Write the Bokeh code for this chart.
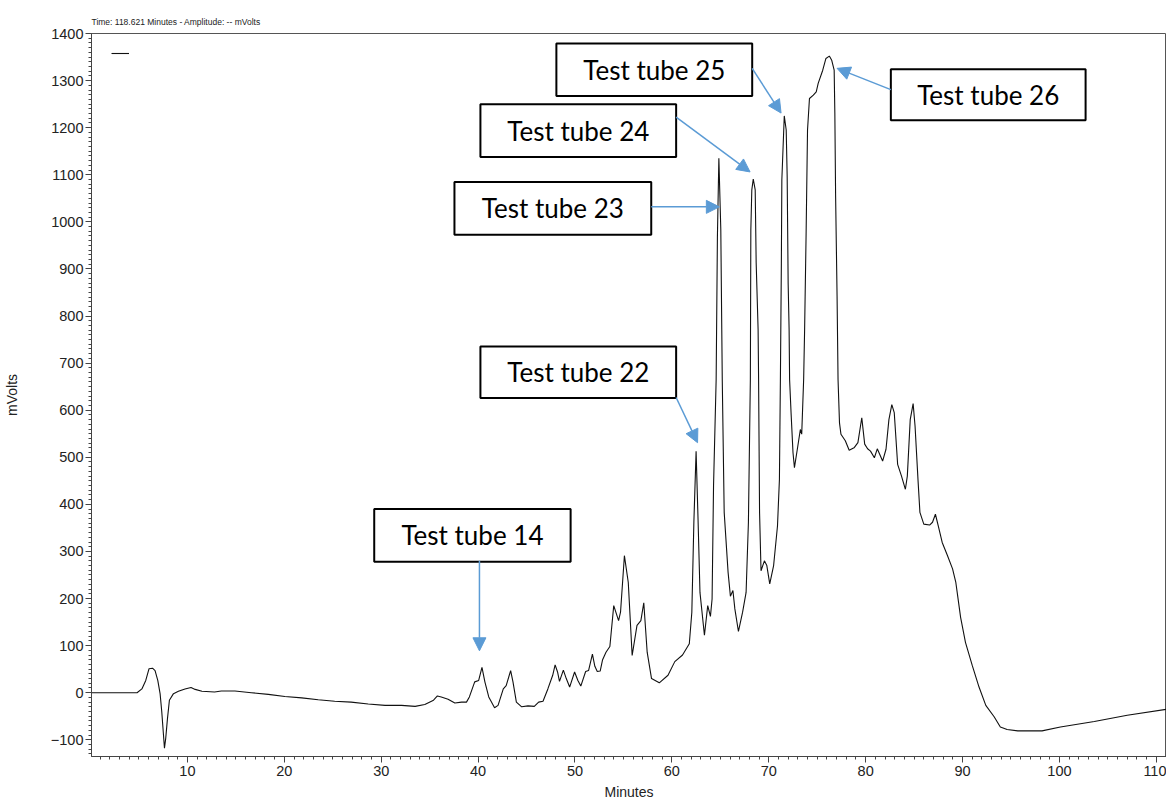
from bokeh.plotting import figure
from bokeh.models import (BoxAnnotation, Label, Arrow, NormalHead, SingleIntervalTicker,
                          Range1d, Legend, LegendItem)
from bokeh.embed import file_html
from bokeh.resources import INLINE

# Detector trace: retention time (min) and signal (mV)
minutes = [0.1, 4.8, 5.3, 5.7, 6.04, 6.4, 6.66, 6.94, 7.18, 7.35, 7.53, 7.63, 7.76, 7.94, 8.14,
           8.56, 9.07, 9.75, 10.37, 10.8, 11.5, 12.8, 13.5, 14.9, 16.6, 18.35, 20.06, 21.8,
           23.5, 25.2, 26.9, 28.66, 30.4, 32.1, 33.5, 34.5, 35.4, 35.8, 36.2, 36.9, 37.6,
           38.3, 38.8, 39.1, 39.65, 40.06, 40.4, 40.7, 41.1, 41.7, 42.06, 42.6, 42.9, 43.36,
           43.6, 43.95, 44.5, 45.15, 45.8, 46.25, 46.7, 47.2, 47.7, 47.95, 48.2, 48.4, 48.8,
           49.1, 49.45, 49.96, 50.3, 50.6, 51.1, 51.4, 51.8, 52.05, 52.3, 52.6, 52.85, 53.2,
           53.6, 54.0, 54.5, 54.7, 55.1, 55.5, 55.9, 56.4, 56.8, 57.1, 57.45, 57.9, 58.7,
           59.6, 60.3, 61.1, 61.8, 62.06, 62.27, 62.5, 62.7, 62.9, 63.36, 63.7, 63.98, 64.15,
           64.3, 64.57, 64.7, 64.85, 65.05, 65.15, 65.2, 65.4, 65.8, 66.04, 66.3, 66.5, 66.87,
           67.3, 67.66, 67.9, 68.1, 68.15, 68.25, 68.4, 68.6, 68.7, 68.9, 68.95, 69.05, 69.2,
           69.55, 69.8, 70.1, 70.5, 70.9, 71.1, 71.2, 71.3, 71.35, 71.6, 71.8, 71.9, 72.0,
           72.1, 72.15, 72.3, 72.5, 72.65, 73.0, 73.26, 73.4, 73.6, 73.7, 73.85, 74.0, 74.2,
           74.6, 74.9, 75.1, 75.57, 75.9, 76.25, 76.5, 76.75, 76.82, 76.9, 77.05, 77.15,
           77.3, 77.45, 77.9, 78.3, 78.8, 79.2, 79.6, 79.9, 80.2, 80.5, 80.9, 81.2, 81.75,
           82.1, 82.4, 82.7, 82.95, 83.3, 83.7, 84.1, 84.3, 84.6, 84.9, 85.1, 85.4, 85.6,
           86.0, 86.6, 86.9, 87.2, 87.5, 87.9, 88.45, 88.97, 89.3, 89.5, 89.8, 90.3, 91.0,
           91.7, 92.4, 93.26, 93.9, 94.6, 95.7, 98.2, 100.1, 103.6, 107.0, 111.1]
mvolts = [0, 0, 8, 26, 51, 52, 47, 26, -2, -40, -90, -118, -97, -55, -16,
          -2, 3, 8, 11, 7, 3, 1.5, 3.5, 3.5, 0, -3.5, -8, -11,
          -15, -18, -20, -24, -27, -27, -29, -25, -16, -7, -9, -14, -22,
          -20, -20, -9, 23, 26, 54, 23, -9, -32, -27, 8, 15, 47,
          23, -20, -30, -28, -29, -20, -18, 8, 37, 59, 44, 24, 48,
          30, 12, 44, 26, 14, 45, 47, 82, 56, 45, 46, 70, 86,
          98, 185, 153, 171, 291, 234, 79, 143, 153, 191, 86, 30, 21,
          37, 66, 80, 104, 171, 362, 513, 369, 213, 122, 185, 162, 199,
          439, 665, 969, 1135, 983, 771, 665, 383, 256, 205, 217, 178, 130,
          171, 213, 362, 665, 983, 1068, 1091, 1068, 913, 771, 665, 383, 259,
          280, 270, 231, 270, 354, 453, 665, 912, 1089, 1225, 1195, 1096, 870,
          771, 665, 595, 510, 478, 524, 559, 549, 665, 771, 969, 1195, 1262,
          1269, 1276, 1294, 1322, 1347, 1352, 1343, 1322, 1231, 1054, 842, 665,
          573, 549, 535, 515, 520, 531, 584, 528, 518, 513, 499, 518, 492,
          517, 580, 612, 595, 485, 460, 432, 460, 580, 614, 566, 453, 383,
          358, 356, 362, 379, 354, 319, 291, 263, 235, 205, 160, 107, 58,
          12, -27, -51, -73, -78, -81, -81, -73, -61, -48, -35]

# Fraction call-outs
tube_labels = ["Test tube 14", "Test tube 22", "Test tube 23",
               "Test tube 24", "Test tube 25", "Test tube 26"]
box_left = [29.28, 40.24, 37.56, 40.24, 48.08, 82.6]
box_right = [49.55, 60.44, 57.87, 60.44, 68.29, 102.7]
box_bottom = [278, 626, 972.5, 1137.7, 1267, 1216]
box_top = [390, 735, 1084.7, 1250, 1379, 1324]
arrow_x0 = [40.14, 60.44, 57.87, 60.44, 68.29, 82.6]
arrow_y0 = [280, 627, 1031.8, 1222.5, 1326, 1280.7]
arrow_x1 = [40.14, 62.65, 64.9, 68.07, 71.27, 77.05]
arrow_y1 = [89, 531, 1031.8, 1106, 1231, 1326]

AXIS_FONT = "Liberation Sans"
CALLOUT_FONT = "Lato"
ARROW_BLUE = "#5B9BD5"

p = figure(width=1166, height=802, output_backend="svg", toolbar_location=None,
           x_range=Range1d(0.1, 111.05), y_range=Range1d(-135.5, 1400),
           min_border_left=90, min_border_right=0, min_border_top=33, min_border_bottom=44,
           title="Time:  118.621 Minutes - Amplitude:  -- mVolts")
p.title.text_font = AXIS_FONT
p.title.text_font_size = "8.5px"
p.title.text_font_style = "normal"
p.title.text_color = "#222222"
p.title.align = "left"
p.title.vertical_align = "middle"
p.title.standoff = 11

p.xgrid.visible = False
p.ygrid.visible = False
p.outline_line_color = "#555555"
p.background_fill_color = "white"
p.border_fill_color = "white"

p.xaxis.ticker = SingleIntervalTicker(interval=10, num_minor_ticks=10)
p.yaxis.ticker = SingleIntervalTicker(interval=100, num_minor_ticks=10)
p.xaxis.axis_label = "Minutes"
p.yaxis.axis_label = "mVolts"
for ax in (p.xaxis, p.yaxis):
    ax.axis_line_color = "#444444"
    ax.major_tick_line_color = "#444444"
    ax.minor_tick_line_color = "#444444"
    ax.major_tick_in = 0
    ax.major_tick_out = 6
    ax.minor_tick_in = 0
    ax.minor_tick_out = 3
    ax.major_label_text_font = AXIS_FONT
    ax.major_label_text_font_size = "14.5px"
    ax.major_label_text_color = "#222222"
    ax.axis_label_text_font = AXIS_FONT
    ax.axis_label_text_font_size = "14px"
    ax.axis_label_text_font_style = "normal"
    ax.axis_label_text_color = "#222222"
p.yaxis.major_label_standoff = 2
p.yaxis.axis_label_standoff = 28
p.xaxis.major_label_standoff = 3
p.xaxis.axis_label_standoff = 5

trace = p.line(minutes, mvolts, line_color="#111111", line_width=1.1)

legend = Legend(items=[LegendItem(label="", renderers=[trace])],
                location=(20, 693), glyph_width=18, glyph_height=20,
                padding=0, margin=0, spacing=0, label_standoff=0,
                label_text_font_size="1px", border_line_color=None,
                background_fill_alpha=0)
p.add_layout(legend)

for i, text in enumerate(tube_labels):
    p.add_layout(BoxAnnotation(left=box_left[i], right=box_right[i],
                               bottom=box_bottom[i], top=box_top[i],
                               fill_color="white", fill_alpha=1.0,
                               line_color="black", line_alpha=1.0, line_width=2))
    p.add_layout(Label(x=(box_left[i] + box_right[i]) / 2,
                       y=(box_bottom[i] + box_top[i]) / 2,
                       text=text, text_align="center", text_baseline="middle",
                       text_font=CALLOUT_FONT, text_font_size="26px", text_color="black"))
    p.add_layout(Arrow(x_start=arrow_x0[i], y_start=arrow_y0[i],
                       x_end=arrow_x1[i], y_end=arrow_y1[i],
                       line_color=ARROW_BLUE, line_width=1.5,
                       end=NormalHead(size=13, fill_color=ARROW_BLUE,
                                      line_color=ARROW_BLUE, line_width=1)))

open("out.html", "w").write(file_html(p, INLINE))
